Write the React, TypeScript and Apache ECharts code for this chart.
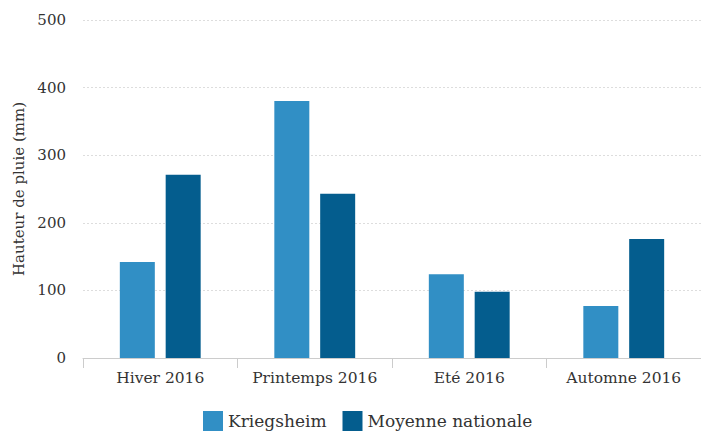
import React, { useEffect, useRef } from "react";
import * as echarts from "echarts";

const categories = ["Hiver 2016", "Printemps 2016", "Eté 2016", "Automne 2016"];
const kriegsheim = [142, 380, 124, 77];
const moyenne = [271, 243, 98, 176];
const seriesNames = ["Kriegsheim", "Moyenne nationale"];
const colors = ["#318fc5", "#045d8e"];
const font = "DejaVu Serif";

export default function App() {
  const ref = useRef<HTMLDivElement>(null);
  useEffect(() => {
    const chart = echarts.init(ref.current!, null, { renderer: "svg" });
    chart.setOption({
      animation: false,
      textStyle: { fontFamily: font },
      grid: { left: 83, top: 20, width: 625, height: 338 },
      legend: {
        bottom: -3,
        left: 198,
        itemWidth: 20,
        itemHeight: 20,
        itemGap: 16,
        icon: "rect",
        textStyle: { fontFamily: font, fontSize: 17, color: "#333" },
        data: seriesNames,
      },
      xAxis: {
        type: "category",
        data: categories,
        axisLine: { lineStyle: { color: "#ccc" } },
        axisTick: { show: true, length: 10, lineStyle: { color: "#ccc" } },
        axisLabel: { fontFamily: font, fontSize: 15.5, color: "#333", margin: 12, interval: 0 },
      },
      yAxis: {
        type: "value",
        min: 0,
        max: 500,
        interval: 100,
        name: "Hauteur de pluie (mm)",
        nameLocation: "middle",
        nameGap: 50,
        nameTextStyle: { fontFamily: font, fontSize: 15, color: "#333" },
        axisLabel: { fontFamily: font, fontSize: 15, color: "#333", margin: 17 },
        splitLine: { lineStyle: { color: "#ddd", type: [2, 2] } },
        axisLine: { show: false },
        axisTick: { show: false },
      },
      series: [
        {
          name: seriesNames[0],
          type: "bar",
          data: kriegsheim,
          itemStyle: { color: colors[0] },
          barWidth: 35,
          barGap: "31%",
        },
        {
          name: seriesNames[1],
          type: "bar",
          data: moyenne,
          itemStyle: { color: colors[1] },
          barWidth: 35,
          barGap: "31%",
        },
      ],
    });
    return () => chart.dispose();
  }, []);
  return <div ref={ref} style={{ width: 701, height: 433, position: "absolute", left: 0, top: 0 }} />;
}
